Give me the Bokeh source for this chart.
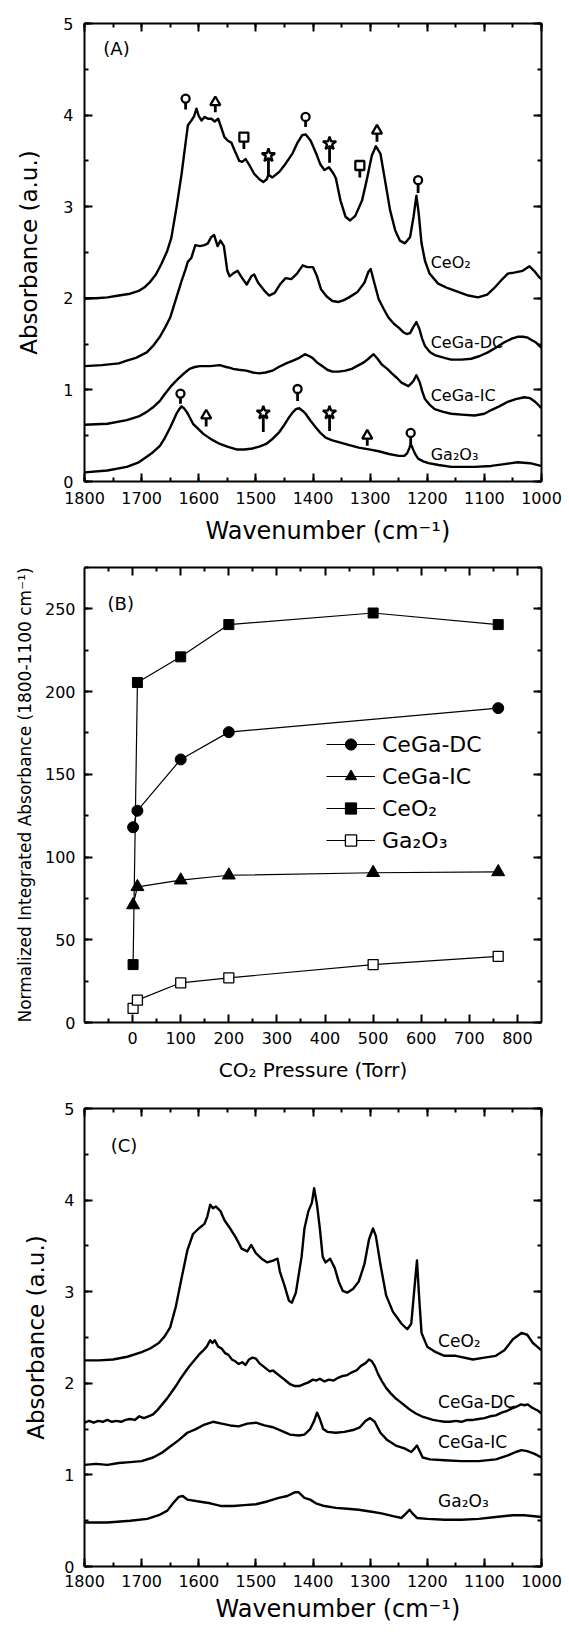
from bokeh.plotting import figure
from bokeh.layouts import column
from bokeh.models import (Range1d, LinearAxis, SingleIntervalTicker, FixedTicker,
                          Legend, LegendItem, ColumnDataSource, Title)
from bokeh.core.properties import value
from bokeh.embed import file_html
from bokeh.resources import INLINE

FONT = "DejaVu Sans"

# ---------------------------------------------------------------------------
# (A) IR spectra, (wavenumber cm-1, absorbance a.u.)
# ---------------------------------------------------------------------------
A_CEO2 = [(1800, 2.00), (1780, 2.00), (1760, 2.01), (1740, 2.03), (1720, 2.05), (1705, 2.08),
          (1695, 2.12), (1685, 2.18), (1675, 2.26), (1665, 2.38), (1655, 2.52), (1648, 2.66),
          (1639, 2.99), (1630, 3.36), (1624, 3.65), (1619, 3.89), (1613, 3.94), (1608, 3.99),
          (1604, 4.07), (1600, 3.99), (1595, 3.94), (1590, 3.98), (1584, 3.96), (1578, 3.96),
          (1572, 3.93), (1566, 3.96), (1561, 3.87), (1555, 3.76), (1549, 3.72), (1543, 3.70),
          (1537, 3.61), (1529, 3.50), (1524, 3.49), (1518, 3.52), (1511, 3.45), (1503, 3.36),
          (1494, 3.30), (1487, 3.27), (1481, 3.30), (1478, 3.35), (1471, 3.32), (1459, 3.38),
          (1448, 3.47), (1436, 3.58), (1427, 3.70), (1419, 3.78), (1413, 3.79), (1404, 3.72),
          (1395, 3.59), (1387, 3.46), (1380, 3.40), (1372, 3.43), (1364, 3.36), (1360, 3.31),
          (1352, 3.07), (1343, 2.89), (1335, 2.85), (1326, 2.90), (1314, 3.07), (1306, 3.29),
          (1297, 3.56), (1290, 3.66), (1282, 3.58), (1274, 3.29), (1265, 2.96), (1256, 2.74),
          (1248, 2.63), (1239, 2.60), (1230, 2.67), (1224, 2.89), (1219, 3.12), (1215, 2.93),
          (1210, 2.60), (1204, 2.41), (1196, 2.27), (1181, 2.16), (1164, 2.11), (1146, 2.07),
          (1128, 2.03), (1111, 2.01), (1095, 2.04), (1083, 2.11), (1070, 2.20), (1059, 2.27),
          (1048, 2.28), (1033, 2.30), (1021, 2.35), (1013, 2.30), (1004, 2.23), (1000, 2.21)]

A_CEGA_DC = [(1800, 1.26), (1770, 1.27), (1740, 1.29), (1726, 1.32), (1710, 1.35), (1691, 1.41),
             (1680, 1.48), (1668, 1.58), (1659, 1.68), (1650, 1.79), (1639, 2.01), (1630, 2.19),
             (1624, 2.30), (1619, 2.40), (1613, 2.44), (1606, 2.58), (1598, 2.57), (1590, 2.58),
             (1584, 2.60), (1578, 2.67), (1573, 2.69), (1567, 2.57), (1562, 2.63), (1556, 2.57),
             (1550, 2.30), (1546, 2.24), (1540, 2.27), (1532, 2.30), (1524, 2.22), (1516, 2.15),
             (1508, 2.24), (1503, 2.26), (1496, 2.17), (1486, 2.09), (1477, 2.03), (1467, 2.06),
             (1458, 2.15), (1448, 2.22), (1438, 2.21), (1428, 2.27), (1418, 2.36), (1410, 2.34),
             (1400, 2.34), (1393, 2.24), (1386, 2.10), (1376, 2.02), (1366, 1.97), (1355, 1.96),
             (1346, 1.98), (1337, 2.01), (1322, 2.07), (1310, 2.17), (1303, 2.29), (1299, 2.32),
             (1294, 2.20), (1285, 1.99), (1276, 1.88), (1268, 1.79), (1258, 1.72), (1250, 1.68),
             (1242, 1.63), (1236, 1.61), (1230, 1.62), (1225, 1.68), (1219, 1.74), (1214, 1.67),
             (1209, 1.56), (1204, 1.48), (1195, 1.41), (1187, 1.38), (1170, 1.35), (1158, 1.33),
             (1140, 1.33), (1123, 1.34), (1108, 1.37), (1094, 1.41), (1080, 1.46), (1065, 1.52),
             (1052, 1.56), (1042, 1.58), (1032, 1.58), (1024, 1.57), (1016, 1.54), (1010, 1.52),
             (1005, 1.49), (1000, 1.46)]

A_CEGA_IC = [(1800, 0.62), (1760, 0.63), (1726, 0.67), (1705, 0.71), (1691, 0.76), (1680, 0.81),
             (1668, 0.88), (1660, 0.95), (1650, 1.03), (1641, 1.09), (1633, 1.14), (1624, 1.19),
             (1616, 1.23), (1607, 1.25), (1598, 1.26), (1580, 1.26), (1563, 1.27), (1552, 1.25),
             (1545, 1.24), (1540, 1.23), (1530, 1.22), (1517, 1.21), (1505, 1.19), (1494, 1.18),
             (1483, 1.19), (1471, 1.21), (1460, 1.25), (1447, 1.29), (1435, 1.32), (1424, 1.35),
             (1414, 1.39), (1407, 1.37), (1401, 1.35), (1393, 1.30), (1384, 1.26), (1375, 1.22),
             (1366, 1.20), (1355, 1.20), (1343, 1.21), (1332, 1.23), (1320, 1.27), (1311, 1.30),
             (1303, 1.34), (1294, 1.39), (1287, 1.34), (1280, 1.28), (1270, 1.23), (1262, 1.18),
             (1253, 1.13), (1245, 1.08), (1239, 1.06), (1233, 1.04), (1228, 1.07), (1224, 1.10),
             (1219, 1.16), (1213, 1.08), (1209, 0.99), (1204, 0.90), (1196, 0.84), (1187, 0.79),
             (1172, 0.76), (1158, 0.74), (1140, 0.73), (1117, 0.72), (1100, 0.74), (1088, 0.78),
             (1074, 0.82), (1059, 0.87), (1045, 0.90), (1030, 0.92), (1020, 0.91), (1013, 0.88),
             (1006, 0.84), (1000, 0.80)]

A_GA2O3 = [(1800, 0.10), (1760, 0.12), (1726, 0.16), (1705, 0.21), (1691, 0.27), (1680, 0.32),
           (1668, 0.39), (1659, 0.48), (1650, 0.59), (1644, 0.67), (1639, 0.74), (1634, 0.79),
           (1630, 0.82), (1626, 0.80), (1621, 0.76), (1615, 0.69), (1610, 0.63), (1600, 0.57),
           (1592, 0.52), (1578, 0.46), (1563, 0.41), (1550, 0.38), (1534, 0.35), (1520, 0.35),
           (1506, 0.36), (1494, 0.38), (1482, 0.41), (1470, 0.47), (1459, 0.54), (1450, 0.62),
           (1442, 0.70), (1436, 0.75), (1430, 0.79), (1424, 0.80), (1418, 0.77), (1413, 0.74),
           (1404, 0.66), (1395, 0.59), (1387, 0.53), (1378, 0.48), (1366, 0.45), (1355, 0.43),
           (1338, 0.40), (1320, 0.37), (1302, 0.35), (1285, 0.33), (1267, 0.30), (1250, 0.28),
           (1240, 0.28), (1235, 0.31), (1231, 0.37), (1229, 0.41), (1226, 0.37), (1222, 0.31),
           (1216, 0.25), (1207, 0.22), (1198, 0.20), (1180, 0.18), (1158, 0.16), (1117, 0.16),
           (1088, 0.17), (1065, 0.19), (1042, 0.21), (1020, 0.20), (1001, 0.17)]

# band assignments marked above the spectra: (wavenumber, marker top, stem base, species symbol)
A_BANDS = [(1623, 4.18, 4.06, "circle"), (1571, 4.14, 4.03, "triangle"),
           (1521, 3.76, 3.63, "square"), (1478, 3.56, 3.34, "star"),
           (1413, 3.98, 3.87, "circle"), (1371, 3.69, 3.48, "star"),
           (1318, 3.45, 3.32, "square"), (1288, 3.83, 3.71, "triangle"),
           (1216, 3.29, 3.15, "circle"),
           (1632, 0.96, 0.85, "circle"), (1587, 0.72, 0.60, "triangle"),
           (1487, 0.75, 0.54, "star"), (1427, 1.01, 0.88, "circle"),
           (1371, 0.75, 0.55, "star"), (1305, 0.50, 0.39, "triangle"),
           (1229, 0.53, 0.41, "circle")]

# ---------------------------------------------------------------------------
# (B) integrated absorbance vs CO2 pressure
# ---------------------------------------------------------------------------
PRESSURE = [1, 10, 100, 200, 500, 760]
B_CEGA_DC_P = [1, 10, 100, 200, 760]
B_CEGA_DC = [118, 128, 159, 175.5, 190]
B_CEGA_IC = [71, 82, 86, 89, 90.5, 91]
B_CEO2 = [35, 205.5, 221, 240.5, 247.5, 240.5]
B_GA2O3 = [8.5, 13.5, 24, 27, 35, 40]

# ---------------------------------------------------------------------------
# (C) IR spectra, (wavenumber cm-1, absorbance a.u.)
# ---------------------------------------------------------------------------
C_CEO2 = [(1800, 2.25), (1775, 2.25), (1750, 2.26), (1725, 2.29), (1700, 2.34), (1685, 2.38),
          (1670, 2.44), (1660, 2.51), (1650, 2.61), (1640, 2.84), (1630, 3.15), (1620, 3.45),
          (1610, 3.63), (1600, 3.69), (1590, 3.74), (1585, 3.82), (1580, 3.95), (1575, 3.91),
          (1570, 3.93), (1562, 3.88), (1555, 3.78), (1545, 3.69), (1535, 3.59), (1525, 3.47),
          (1515, 3.44), (1508, 3.51), (1500, 3.42), (1490, 3.36), (1480, 3.32), (1470, 3.34),
          (1462, 3.36), (1458, 3.22), (1450, 3.07), (1442, 2.90), (1437, 2.88), (1430, 2.99),
          (1420, 3.38), (1415, 3.69), (1408, 3.88), (1402, 3.97), (1398, 4.13), (1393, 3.95),
          (1388, 3.69), (1383, 3.38), (1378, 3.32), (1370, 3.36), (1362, 3.26), (1355, 3.11),
          (1348, 3.01), (1340, 2.99), (1330, 3.03), (1320, 3.11), (1310, 3.30), (1302, 3.57),
          (1295, 3.69), (1290, 3.61), (1282, 3.30), (1272, 2.96), (1260, 2.78), (1245, 2.65),
          (1235, 2.59), (1228, 2.65), (1222, 3.07), (1218, 3.34), (1214, 2.92), (1210, 2.55),
          (1200, 2.40), (1185, 2.34), (1170, 2.30), (1150, 2.30), (1120, 2.26), (1100, 2.28),
          (1080, 2.30), (1065, 2.36), (1050, 2.48), (1035, 2.55), (1025, 2.53), (1015, 2.44),
          (1000, 2.36)]

C_CEGA_DC = [(1800, 1.57), (1792, 1.59), (1784, 1.57), (1776, 1.59), (1768, 1.58), (1760, 1.60),
             (1752, 1.58), (1744, 1.59), (1736, 1.58), (1728, 1.60), (1720, 1.61), (1712, 1.60),
             (1704, 1.64), (1696, 1.62), (1688, 1.64), (1680, 1.66), (1672, 1.71), (1664, 1.77),
             (1656, 1.83), (1648, 1.90), (1640, 1.97), (1632, 2.05), (1624, 2.12), (1616, 2.19),
             (1608, 2.25), (1600, 2.31), (1592, 2.36), (1586, 2.40), (1580, 2.47), (1576, 2.44),
             (1572, 2.47), (1566, 2.40), (1560, 2.38), (1554, 2.33), (1548, 2.31), (1542, 2.26),
             (1536, 2.24), (1530, 2.21), (1524, 2.23), (1518, 2.20), (1512, 2.26), (1506, 2.28),
             (1500, 2.27), (1494, 2.22), (1488, 2.19), (1482, 2.16), (1476, 2.13), (1470, 2.14),
             (1464, 2.11), (1456, 2.07), (1448, 2.03), (1440, 1.99), (1432, 1.97), (1424, 1.97),
             (1416, 1.99), (1408, 2.01), (1400, 2.04), (1394, 2.03), (1388, 2.05), (1380, 2.02),
             (1372, 2.04), (1364, 2.03), (1356, 2.06), (1348, 2.08), (1340, 2.09), (1332, 2.12),
             (1324, 2.14), (1316, 2.19), (1308, 2.22), (1302, 2.26), (1297, 2.24), (1292, 2.19),
             (1286, 2.10), (1280, 2.03), (1272, 1.95), (1264, 1.89), (1256, 1.84), (1248, 1.80),
             (1240, 1.76), (1230, 1.71), (1220, 1.67), (1210, 1.64), (1200, 1.62), (1190, 1.60),
             (1180, 1.59), (1170, 1.58), (1160, 1.58), (1150, 1.59), (1140, 1.58), (1130, 1.60),
             (1120, 1.60), (1110, 1.61), (1100, 1.62), (1090, 1.64), (1080, 1.65), (1070, 1.68),
             (1060, 1.70), (1050, 1.73), (1042, 1.75), (1036, 1.77), (1030, 1.76), (1024, 1.77),
             (1018, 1.74), (1012, 1.72), (1006, 1.70), (1000, 1.67)]

C_CEGA_IC = [(1800, 1.11), (1780, 1.12), (1760, 1.11), (1740, 1.13), (1720, 1.14), (1700, 1.15),
             (1680, 1.19), (1665, 1.24), (1650, 1.31), (1635, 1.38), (1620, 1.46), (1605, 1.50),
             (1590, 1.55), (1575, 1.58), (1560, 1.56), (1545, 1.54), (1530, 1.53), (1515, 1.56),
             (1500, 1.57), (1485, 1.54), (1470, 1.52), (1455, 1.48), (1440, 1.44), (1425, 1.43),
             (1415, 1.44), (1405, 1.50), (1398, 1.59), (1393, 1.68), (1388, 1.61), (1382, 1.50),
             (1375, 1.47), (1360, 1.46), (1345, 1.47), (1330, 1.49), (1318, 1.52), (1308, 1.59),
             (1300, 1.62), (1292, 1.58), (1282, 1.46), (1270, 1.38), (1255, 1.32), (1240, 1.29),
             (1228, 1.25), (1222, 1.29), (1218, 1.32), (1214, 1.27), (1208, 1.19), (1195, 1.17),
             (1170, 1.16), (1140, 1.15), (1110, 1.15), (1080, 1.17), (1060, 1.21), (1045, 1.25),
             (1035, 1.27), (1025, 1.26), (1012, 1.23), (1000, 1.19)]

C_GA2O3 = [(1800, 0.48), (1760, 0.48), (1720, 0.50), (1690, 0.52), (1670, 0.56), (1655, 0.61),
           (1645, 0.69), (1635, 0.76), (1628, 0.77), (1620, 0.73), (1600, 0.71), (1580, 0.69),
           (1560, 0.66), (1540, 0.66), (1520, 0.67), (1500, 0.68), (1480, 0.71), (1460, 0.75),
           (1445, 0.77), (1432, 0.81), (1425, 0.81), (1415, 0.75), (1405, 0.73), (1395, 0.69),
           (1380, 0.66), (1360, 0.64), (1340, 0.63), (1320, 0.62), (1300, 0.60), (1280, 0.58),
           (1260, 0.55), (1245, 0.53), (1237, 0.58), (1231, 0.62), (1226, 0.58), (1218, 0.53),
           (1200, 0.52), (1170, 0.51), (1140, 0.51), (1110, 0.52), (1080, 0.54), (1050, 0.56),
           (1030, 0.56), (1000, 0.54)]


def split(pairs):
    return [p[0] for p in pairs], [p[1] for p in pairs]


def style_axis(ax, labels=True, standoff=10, size="16px"):
    ax.axis_line_width = 2
    ax.axis_line_color = "black"
    ax.major_tick_line_width = 2
    ax.minor_tick_line_width = 2
    ax.major_tick_line_color = "black"
    ax.minor_tick_line_color = "black"
    ax.major_tick_in = 8
    ax.major_tick_out = 0
    ax.minor_tick_in = 4
    ax.minor_tick_out = 0
    ax.major_label_text_font = FONT
    ax.major_label_text_font_size = size
    ax.major_label_text_color = "black"
    ax.major_label_standoff = standoff
    ax.axis_label_text_font = FONT
    ax.axis_label_text_font_style = "normal"
    ax.axis_label_text_color = "black"
    if not labels:
        ax.major_label_text_color = None
        ax.major_label_text_font_size = "0px"


def make_panel(height, borders, x_range, y_range, xticker, yticker,
               xlabel, ylabel, xlabel_size, ylabel_size,
               xlabel_standoff, ylabel_standoff, xtick_standoff, ytick_standoff):
    left, right, top, bottom = borders
    p = figure(width=569, height=height, x_range=x_range, y_range=y_range,
               output_backend="svg", toolbar_location=None,
               min_border_left=left, min_border_right=right,
               min_border_top=top, min_border_bottom=bottom)
    p.grid.visible = False
    p.outline_line_color = None
    p.background_fill_color = "white"
    p.border_fill_color = "white"

    xb = p.xaxis[0]
    yl = p.yaxis[0]
    xb.ticker = xticker
    yl.ticker = yticker
    style_axis(xb, True, xtick_standoff)
    style_axis(yl, True, ytick_standoff)
    if xlabel:
        xb.axis_label = xlabel
        xb.axis_label_text_font_size = xlabel_size
        xb.axis_label_standoff = xlabel_standoff
    yl.axis_label = ylabel
    yl.axis_label_text_font_size = ylabel_size
    yl.axis_label_standoff = ylabel_standoff

    xt = LinearAxis(ticker=xticker)
    yr = LinearAxis(ticker=yticker)
    style_axis(xt, False)
    style_axis(yr, False)
    p.add_layout(xt, "above")
    p.add_layout(yr, "right")
    return p


def spectrum_ticks():
    return (SingleIntervalTicker(interval=100, num_minor_ticks=2),
            SingleIntervalTicker(interval=1, num_minor_ticks=2))


def bottom_title(p, text, left_offset, standoff):
    # x-axis title under the tick labels, its left edge `left_offset` px from the frame
    p.add_layout(Title(text=text, align="left", offset=left_offset, standoff=standoff,
                       text_font=FONT, text_font_size="24px", text_font_style="normal",
                       text_color="black"), "below")


LINE_W = 2.4
WAVENUMBER = "Wavenumber (cm\u207b\u00b9)"
ABSORBANCE = "Absorbance (a.u.)"

# ---------------------------------------------------------------------------
# Panel A
# ---------------------------------------------------------------------------
xt_a, yt_a = spectrum_ticks()
pA = make_panel(556, (84, 25, 23, 75), Range1d(1800, 1000), Range1d(0, 5), xt_a, yt_a,
                None, ABSORBANCE, "24px", "23px", 4, 18, 10, 11)
bottom_title(pA, WAVENUMBER, 121, 16)

for series in (A_CEO2, A_CEGA_DC, A_CEGA_IC, A_GA2O3):
    wn, ab = split(series)
    pA.line(wn, ab, line_color="black", line_width=LINE_W, line_join="round")

marker_size = {"circle": 8, "triangle": 10, "square": 9, "star": 14}
band_src = ColumnDataSource(dict(
    wn=[b[0] for b in A_BANDS],
    top=[b[1] for b in A_BANDS],
    base=[b[2] for b in A_BANDS],
    kind=[b[3] for b in A_BANDS],
    size=[marker_size[b[3]] for b in A_BANDS],
))
pA.segment(x0="wn", y0="base", x1="wn", y1="top", source=band_src,
           line_color="black", line_width=2.8)
pA.scatter(x="wn", y="top", marker="kind", size="size", source=band_src,
           fill_color="white", line_color="black", line_width=2.3)

pA.text(x=[1194, 1194, 1194, 1194], y=[2.39, 1.52, 0.94, 0.29],
        text=["CeO\u2082", "CeGa-DC", "CeGa-IC", "Ga\u2082O\u2083"],
        text_font=value(FONT), text_font_size="16px", text_color="black",
        text_align="left", text_baseline="middle")
pA.text(x=[1767], y=[4.73], text=["(A)"], text_font=value(FONT),
        text_font_size="18px", text_color="black",
        text_align="left", text_baseline="middle")

# ---------------------------------------------------------------------------
# Panel B
# ---------------------------------------------------------------------------
xt_b = FixedTicker(ticks=[0, 100, 200, 300, 400, 500, 600, 700, 800],
                   minor_ticks=[-50, 50, 150, 250, 350, 450, 550, 650, 750])
yt_b = SingleIntervalTicker(interval=50, num_minor_ticks=2)
pB = make_panel(538, (80, 28, 11, 72), Range1d(-100, 850), Range1d(0, 275), xt_b, yt_b,
                "CO\u2082 Pressure (Torr)",
                "Normalized Integrated Absorbance (1800-1100 cm\u207b\u00b9)",
                "20px", "17px", 11, 7, 9, 9)

LW_B = 1.2
l_dc = pB.line(B_CEGA_DC_P, B_CEGA_DC, line_color="black", line_width=LW_B)
m_dc = pB.scatter(B_CEGA_DC_P, B_CEGA_DC, marker="circle", size=11,
                  fill_color="black", line_color="black")
l_ic = pB.line(PRESSURE, B_CEGA_IC, line_color="black", line_width=LW_B)
m_ic = pB.scatter(PRESSURE, B_CEGA_IC, marker="triangle", size=13,
                  fill_color="black", line_color="black")
l_ce = pB.line(PRESSURE, B_CEO2, line_color="black", line_width=LW_B)
m_ce = pB.scatter(PRESSURE, B_CEO2, marker="square", size=10,
                  fill_color="black", line_color="black")
l_ga = pB.line(PRESSURE, B_GA2O3, line_color="black", line_width=LW_B)
m_ga = pB.scatter(PRESSURE, B_GA2O3, marker="square", size=10,
                  fill_color="white", line_color="black", line_width=1.3)

legend = Legend(items=[
    LegendItem(label="CeGa-DC", renderers=[l_dc, m_dc]),
    LegendItem(label="CeGa-IC", renderers=[l_ic, m_ic]),
    LegendItem(label="CeO\u2082", renderers=[l_ce, m_ce]),
    LegendItem(label="Ga\u2082O\u2083", renderers=[l_ga, m_ga]),
], location=(242, 168))
legend.border_line_color = None
legend.background_fill_alpha = 0
legend.padding = 0
legend.margin = 0
legend.spacing = 4
legend.glyph_width = 49
legend.glyph_height = 28
legend.label_height = 28
legend.label_standoff = 7
legend.label_text_font = FONT
legend.label_text_font_size = "22px"
legend.label_text_color = "black"
legend.label_text_baseline = "middle"
pB.add_layout(legend)

pB.text(x=[-52], y=[253], text=["(B)"], text_font=value(FONT),
        text_font_size="18px", text_color="black",
        text_align="left", text_baseline="middle")

# ---------------------------------------------------------------------------
# Panel C
# ---------------------------------------------------------------------------
xt_c, yt_c = spectrum_ticks()
pC = make_panel(543, (77, 26, 14, 71), Range1d(1800, 1000), Range1d(0, 5), xt_c, yt_c,
                None, ABSORBANCE, "24px", "23px", 12, 12, 8, 10)
bottom_title(pC, WAVENUMBER, 131, 6)

for series in (C_CEO2, C_CEGA_DC, C_CEGA_IC, C_GA2O3):
    wn, ab = split(series)
    pC.line(wn, ab, line_color="black", line_width=LINE_W, line_join="round")

pC.text(x=[1181, 1181, 1181, 1181], y=[2.46, 1.80, 1.36, 0.71],
        text=["CeO\u2082", "CeGa-DC", "CeGa-IC", "Ga\u2082O\u2083"],
        text_font=value(FONT), text_font_size="17px", text_color="black",
        text_align="left", text_baseline="middle")
pC.text(x=[1754], y=[4.6], text=["(C)"], text_font=value(FONT),
        text_font_size="18px", text_color="black",
        text_align="left", text_baseline="middle")

layout = column(pA, pB, pC, spacing=0)

with open("out.html", "w") as f:
    f.write(file_html(layout, INLINE))
